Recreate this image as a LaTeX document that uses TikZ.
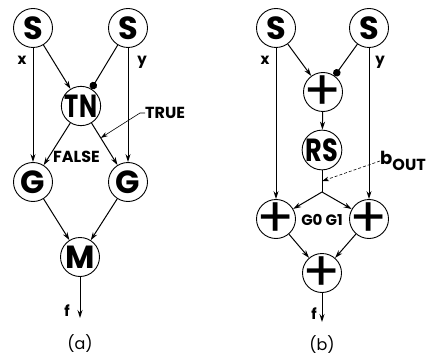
\documentclass[tikz,border=0pt]{standalone}
\usepackage{fontspec}
\setmainfont{Poppins}
\usetikzlibrary{arrows.meta,calc}
\newcommand{\plussign}{\raisebox{-0.335em}[0pt][0pt]{+}}
\begin{document}
\begin{tikzpicture}[x=1pt,y=-1pt,
  blk/.style={circle,draw,line width=0.9pt,minimum size=39pt,inner sep=0pt,
    font=\fontsize{32}{32}\selectfont\bfseries},
  plusnode/.style={blk,font=\fontsize{56}{56}\selectfont},
  arr/.style={line width=1pt,-{Stealth[length=8pt,width=5pt]}},
  dotarr/.style={line width=1pt,-{Circle[length=7.5pt]}},
  wire/.style={line width=1pt},
  lead/.style={line width=0.6pt,-{Stealth[length=7pt,width=4.5pt]}},
  lbl/.style={font=\fontsize{15}{15}\selectfont\bfseries,inner sep=0pt},
  biglbl/.style={font=\fontsize{16}{16}\selectfont\bfseries,inner sep=0pt},
  captxt/.style={font=\fontsize{16}{16}\selectfont,inner sep=0pt}]
\useasboundingbox (0,0) rectangle (430,358);
% ---------- (a) ----------
\node[blk] (sl) at (33,28) {S};
\node[blk] (sr) at (128,28) {S};
\node[blk] (tn) at (81,106) {\scalebox{0.75}[1]{TN}};
\node[blk] (gl) at (33,182) {G};
\node[blk] (gr) at (128,182) {G};
\node[blk] (m) at (80,257) {M};
\coordinate (fa) at (80,318);
\node[lbl] (xa) at (22,60) {x};
\node[lbl] (ya) at (142,62) {y};
\node[lbl] (fla) at (67,311) {f};
\node[captxt] (capa) at (80,344) {(a)};
\node[biglbl,anchor=west] (true) at (145,113) {TRUE};
\node[biglbl,anchor=west] (false) at (53,157) {FALSE};
\draw[arr] (sl) -- (gl);
\draw[arr] (sr) -- (gr);
\draw[arr] (sl) -- (tn);
\draw[dotarr] (sr) -- (tn);
\draw[arr] (tn) -- (gl);
\draw[arr] (tn) -- (gr);
\draw[arr] (gl) -- (m);
\draw[arr] (gr) -- (m);
\draw[arr] (m) -- (fa);
\coordinate (tpt) at ($(tn)!0.42!(gr)$);
\draw[lead] (true.west) -- ++(-5,0) -- (tpt);
% ---------- (b) ----------
\node[blk] (bsl) at (276,28) {S};
\node[blk] (bsr) at (369,28) {S};
\node[plusnode] (pt) at (323,92) {\plussign};
\node[blk] (rs) at (322,150) {\scalebox{0.8}[1]{RS}};
\coordinate (j) at (322,192);
\node[plusnode] (pl) at (276,219) {\plussign};
\node[plusnode] (pr) at (369,219) {\plussign};
\node[plusnode] (pb) at (322,273) {\plussign};
\coordinate (fb) at (322,322);
\node[lbl] (xb) at (265,60) {x};
\node[lbl] (yb) at (380,62) {y};
\node[lbl] (flb) at (314,314) {f};
\node[captxt] (capb) at (322,345) {(b)};
\node[font=\fontsize{15}{15}\selectfont\bfseries,inner sep=0pt] (g01) at (322,220) {G0 G1};
\node[font=\fontsize{18}{18}\selectfont\bfseries,inner sep=0pt,anchor=west] (bout) at (380,161) {b\raisebox{-6pt}{\fontsize{16}{16}\selectfont OUT}};
\draw[arr] (bsl) -- (pl);
\draw[arr] (bsr) -- (pr);
\draw[arr] (bsl) -- (pt);
\draw[dotarr] (bsr) -- (pt);
\draw[arr] (pt) -- (rs);
\draw[wire] (rs) -- (j);
\draw[arr] (j) -- (pl);
\draw[arr] (j) -- (pr);
\draw[arr] (pl) -- (pb);
\draw[arr] (pr) -- (pb);
\draw[arr] (pb) -- (fb);
\coordinate (bpt) at ($(rs.south)!0.5!(j)$);
\draw[lead,densely dashed] (bout.west) -- (bpt);
\end{tikzpicture}
\end{document}
